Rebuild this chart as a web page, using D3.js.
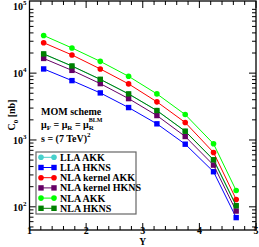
<!DOCTYPE html>
<html><head><meta charset="utf-8">
<script src="https://cdn.jsdelivr.net/npm/d3@7"></script>
<style>body{margin:0;background:#fff}svg{display:block}text{font-family:"Liberation Serif","Times New Roman",serif;font-weight:bold}</style>
</head><body><svg id="c" width="259" height="247"></svg>
<script>
const xValues = [1.25, 1.75, 2.25, 2.75, 3.25, 3.75, 4.25, 4.65];
const llaAKK = [19300, 12700, 8050, 4870, 2750, 1350, 505, 104];
const llaHKNS = [11550, 7730, 5060, 3055, 1745, 865, 335, 69];
const nlaKernelAKK = [28500, 18700, 11550, 6900, 3720, 1825, 650, 129];
const nlaKernelHKNS = [16600, 11000, 6970, 4160, 2320, 1128, 421, 86.5];
const nlaAKK = [36600, 23800, 15000, 8960, 4890, 2400, 877, 175];
const nlaHKNS = [19400, 12800, 8080, 4890, 2755, 1353, 506, 104];
const seriesNames = ["LLA AKK", "LLA HKNS", "NLA kernel AKK", "NLA kernel HKNS", "NLA AKK", "NLA HKNS"];
const seriesColors = ["#48d1cc", "#0000ff", "#ff0000", "#660066", "#00ff00", "#008000"];
const seriesShapes = ["circle", "square", "circle", "square", "circle", "square"];
const seriesValues = [llaAKK, llaHKNS, nlaKernelAKK, nlaKernelHKNS, nlaAKK, nlaHKNS];
const xTicks = [1, 2, 3, 4, 5];
const yTicks = [1e2, 1e3, 1e4, 1e5];
const yTickExp = ["2", "3", "4", "5"];

const svg = d3.select("#c");
const L = 29.5, R = 256, T = 1, B = 230;
const x = d3.scaleLinear().domain([1, 5]).range([L, R]);
const y = d3.scaleLog().domain([45, 1.2e5]).range([B, T]);

// ticks
const g = svg.append("g");
const minorX = d3.range(1, 5.001, 0.2).filter(v => Math.abs(v - Math.round(v)) > 1e-6);
xTicks.forEach(v => {
  g.append("line").attr("x1", x(v)).attr("x2", x(v)).attr("y1", B).attr("y2", B - 7).attr("stroke", "#000");
  g.append("line").attr("x1", x(v)).attr("x2", x(v)).attr("y1", T).attr("y2", T + 7).attr("stroke", "#000");
});
minorX.forEach(v => {
  g.append("line").attr("x1", x(v)).attr("x2", x(v)).attr("y1", B).attr("y2", B - 4).attr("stroke", "#000");
  g.append("line").attr("x1", x(v)).attr("x2", x(v)).attr("y1", T).attr("y2", T + 4).attr("stroke", "#000");
});
const minorY = [];
[1, 2, 3, 4].forEach(e => { for (let m = 1; m <= 9; m++) { const v = m * Math.pow(10, e); if (v >= 45 && v <= 1.2e5) minorY.push(v); } });
minorY.forEach(v => {
  const major = yTicks.includes(v);
  const len = major ? 7 : 4;
  g.append("line").attr("x1", L).attr("x2", L + len).attr("y1", y(v)).attr("y2", y(v)).attr("stroke", "#000");
  g.append("line").attr("x1", R).attr("x2", R - len).attr("y1", y(v)).attr("y2", y(v)).attr("stroke", "#000");
});
svg.append("rect").attr("x", L).attr("y", T).attr("width", R - L).attr("height", B - T)
  .attr("fill", "none").attr("stroke", "#000").attr("stroke-width", 1.3);

// tick labels
xTicks.forEach(v => {
  svg.append("text").attr("x", x(v)).attr("y", 234).attr("text-anchor", "middle").attr("font-size", 10).text(v);
});
yTicks.forEach((v, i) => {
  const t = svg.append("text").attr("x", 26.5).attr("y", y(v) + 4).attr("text-anchor", "end").attr("font-size", 10);
  t.append("tspan").text("10");
  t.append("tspan").attr("font-size", 7).attr("dy", -5).text(yTickExp[i]);
});
svg.append("text").attr("x", x(3)).attr("y", 244.7).attr("text-anchor", "middle").attr("font-size", 9.5).text("Y");
const yl = svg.append("text").attr("transform", "translate(15,115) rotate(-90)").attr("text-anchor", "middle").attr("font-size", 10);
yl.append("tspan").text("C");
yl.append("tspan").attr("font-size", 7).attr("dy", 2.5).text("0");
yl.append("tspan").attr("dy", -2.5).text(" [nb]");

// series
const line = d3.line().x((d, i) => x(xValues[i])).y(d => y(d));
function marker(sel, shape, cx, cy, color) {
  if (shape === "circle") sel.append("circle").attr("cx", cx).attr("cy", cy).attr("r", 2.8).attr("fill", color);
  else sel.append("rect").attr("x", cx - 2.7).attr("y", cy - 2.7).attr("width", 5.4).attr("height", 5.4).attr("fill", color);
}
seriesValues.forEach((vals, s) => {
  svg.append("path").datum(vals).attr("d", line).attr("fill", "none").attr("stroke", seriesColors[s]).attr("stroke-width", 1);
  vals.forEach((v, i) => marker(svg, seriesShapes[s], x(xValues[i]), y(v), seriesColors[s]));
});

// annotations
svg.append("text").attr("x", 41).attr("y", 115).attr("font-size", 10).text("MOM scheme");
const mu = svg.append("text").attr("x", 41).attr("y", 127.5).attr("font-size", 10);
mu.append("tspan").text("μ");
mu.append("tspan").attr("font-size", 7).attr("dy", 2).text("F");
mu.append("tspan").attr("dy", -2).text(" = μ");
mu.append("tspan").attr("font-size", 7).attr("dy", 2).text("R");
mu.append("tspan").attr("dy", -2).text(" = μ");
mu.append("tspan").attr("font-size", 7).attr("dy", 2).text("R");
mu.append("tspan").attr("font-size", 6).attr("dx", -5).attr("dy", -7.5).text("BLM");
const sT = svg.append("text").attr("x", 41).attr("y", 141.5).attr("font-size", 10);
sT.append("tspan").text("s = (7 TeV)");
sT.append("tspan").attr("font-size", 7).attr("dy", -5).text("2");

// legend
svg.append("rect").attr("x", 36).attr("y", 152).attr("width", 100).attr("height", 62)
  .attr("fill", "#fff").attr("stroke", "#666").attr("stroke-width", 1.2);
seriesNames.forEach((n, s) => {
  const ly = 157.3 + s * 10.2;
  svg.append("line").attr("x1", 41).attr("x2", 54).attr("y1", ly).attr("y2", ly).attr("stroke", seriesColors[s]).attr("stroke-width", 1);
  marker(svg, seriesShapes[s], 41, ly, seriesColors[s]);
  marker(svg, seriesShapes[s], 54, ly, seriesColors[s]);
  svg.append("text").attr("x", 60).attr("y", ly + 3.5).attr("font-size", 10).text(n);
});
</script></body></html>
